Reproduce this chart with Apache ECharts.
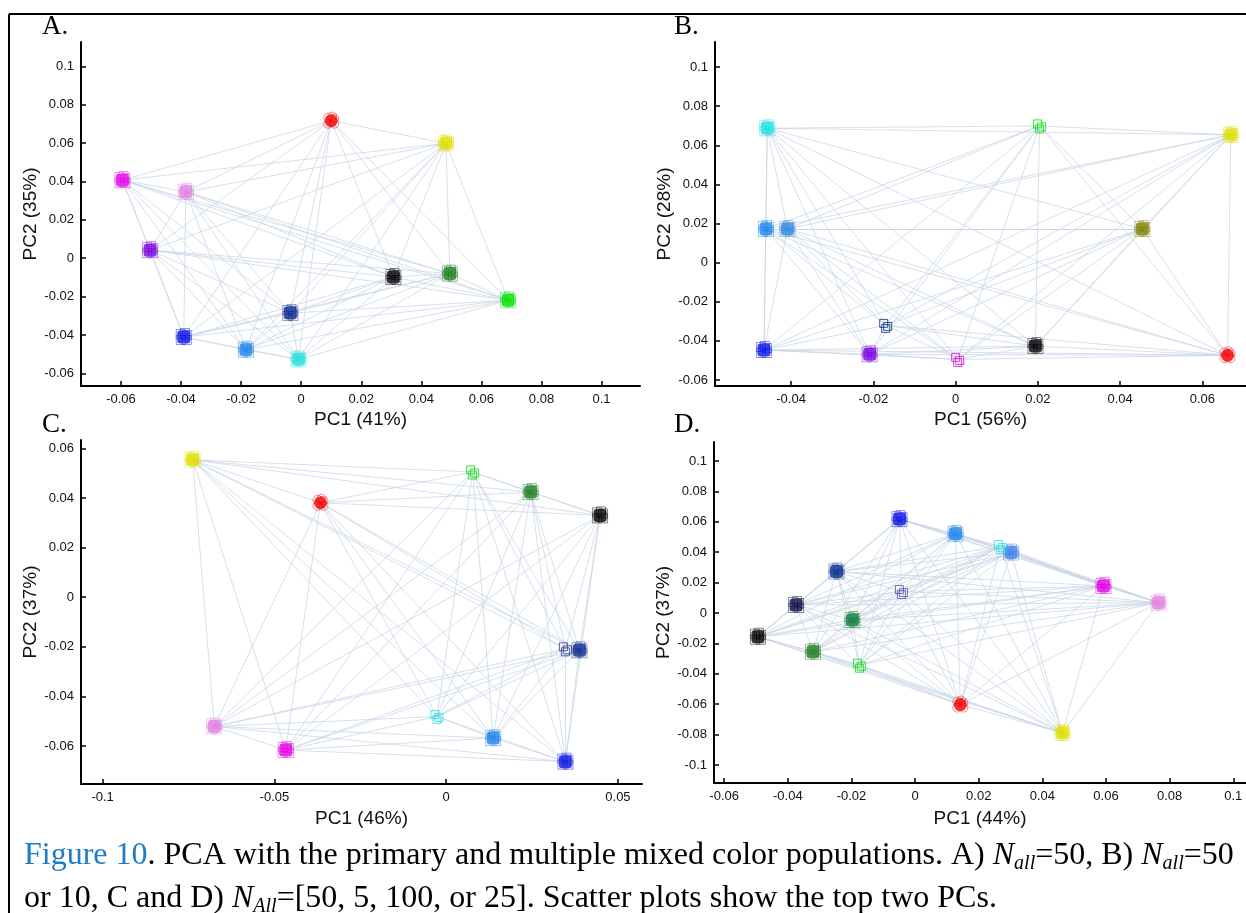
<!DOCTYPE html>
<html><head><meta charset="utf-8">
<script src="https://cdn.jsdelivr.net/npm/echarts@6/dist/echarts.min.js"></script>
<style>html,body{margin:0;padding:0;background:#fff}#c{width:1246px;height:913px}</style>
</head><body><div id="c"></div>
<script>
// ---------------- DATA ----------------
// Panel A
const A_names = ['red','yellow','magenta','orchid','purple','black','green','lime','navy','blue','dodger','cyan'];
const A_pc1 = [0.0100, 0.0482, -0.0595, -0.0384, -0.0503, 0.0307, 0.0495, 0.0689, -0.0036, -0.0391, -0.0184, -0.0009];
const A_pc2 = [0.0717, 0.0599, 0.0407, 0.0346, 0.0042, -0.0098, -0.0080, -0.0219, -0.0286, -0.0411, -0.0477, -0.0527];
const A_xTicks = [-0.06,-0.04,-0.02,0,0.02,0.04,0.06,0.08,0.1];
const A_yTicks = [-0.06,-0.04,-0.02,0,0.02,0.04,0.06,0.08,0.1];
const A_xName = 'PC1 (41%)', A_yName = 'PC2 (35%)';

// Panel B
const B_names = ['cyan','lime','yellow','dodger','dodger2','olive','navy','blue','purple','magenta','black','red'];
const B_pc1 = [-0.0458, 0.0204, 0.0669, -0.0461, -0.0409, 0.0454, -0.0170, -0.0466, -0.0209, 0.0005, 0.0194, 0.0661];
const B_pc2 = [0.0687, 0.0699, 0.0653, 0.0172, 0.0172, 0.0172, -0.0321, -0.0447, -0.0469, -0.0495, -0.0427, -0.0474];
const B_xTicks = [-0.04,-0.02,0,0.02,0.04,0.06];
const B_yTicks = [-0.06,-0.04,-0.02,0,0.02,0.04,0.06,0.08,0.1];
const B_xName = 'PC1 (56%)', B_yName = 'PC2 (28%)';

// Panel C
const C_names = ['yellow','lime','red','green','black','navy','navyLight','orchid','magenta','cyan','dodger','blue'];
const C_pc1 = [-0.0738, 0.0077, -0.0366, 0.0246, 0.0448, 0.0388, 0.0347, -0.0675, -0.0467, -0.0027, 0.0137, 0.0347];
const C_pc2 = [0.0554, 0.0505, 0.0381, 0.0424, 0.0330, -0.0214, -0.0208, -0.0521, -0.0616, -0.0481, -0.0568, -0.0663];
const C_xTicks = [-0.1,-0.05,0,0.05];
const C_yTicks = [-0.06,-0.04,-0.02,0,0.02,0.04,0.06];
const C_xName = 'PC1 (46%)', C_yName = 'PC2 (37%)';

// Panel D
const D_names = ['blue','dodger','cyan','cornflower','navy','slate','magenta','orchid','darknavy','green2','black','green','lime','red','yellow'];
const D_pc1 = [-0.0049, 0.0127, 0.0268, 0.0302, -0.0247, -0.0043, 0.0592, 0.0765, -0.0374, -0.0197, -0.0494, -0.0321, -0.0175, 0.0142, 0.0463];
const D_pc2 = [0.0618, 0.0521, 0.0437, 0.0398, 0.0273, 0.0141, 0.0178, 0.0068, 0.0053, -0.0046, -0.0156, -0.0255, -0.0343, -0.0602, -0.0789];
const D_xTicks = [-0.06,-0.04,-0.02,0,0.02,0.04,0.06,0.08,0.1];
const D_yTicks = [-0.1,-0.08,-0.06,-0.04,-0.02,0,0.02,0.04,0.06,0.08,0.1];
const D_xName = 'PC1 (44%)', D_yName = 'PC2 (37%)';

// ---------------- STYLE ----------------
const COLORS = {
  red:'#f20000', yellow:'#dede00', magenta:'#e400e4', orchid:'#e080e0', purple:'#7a00e0',
  black:'#000000', green:'#1f7d1f', lime:'#00e000', navy:'#0b2a8c', blue:'#0a14e4',
  dodger:'#1b84e8', dodger2:'#2f88e0', cyan:'#20e0e0', olive:'#7f7f00', navyLight:'#2a3a9a',
  cornflower:'#3f82e8', slate:'#6048a8', darknavy:'#0c0c48', green2:'#0b7d3b'
};
const CIRCLES = {red:true};
const HOLLOW = {
  A:{}, B:{lime:true, navy:true, magenta:true}, C:{lime:true, cyan:true, navyLight:true}, D:{cyan:true, slate:true, lime:true}
};
const LAYOUT = {
  A:{grid:{left:81, top:42, width:559, height:344}, x:[-0.0733,0.1128], y:[-0.0666,0.1127], yGap:37, xGap:24, letter:[42,26]},
  B:{grid:{left:715, top:42, width:531, height:344}, x:[-0.0585,0.0706], y:[-0.0631,0.1128], yGap:37, xGap:24, letter:[674,26]},
  C:{grid:{left:81, top:440, width:561, height:344}, x:[-0.1063,0.0570], y:[-0.0753,0.0634], yGap:37, xGap:25, letter:[42,424]},
  D:{grid:{left:714, top:442, width:532, height:341}, x:[-0.0632,0.1040], y:[-0.1118,0.1125], yGap:36, xGap:26, letter:[674,424]}
};
const PANELS = [
  {key:'A', names:A_names, pc1:A_pc1, pc2:A_pc2, xt:A_xTicks, yt:A_yTicks, xn:A_xName, yn:A_yName},
  {key:'B', names:B_names, pc1:B_pc1, pc2:B_pc2, xt:B_xTicks, yt:B_yTicks, xn:B_xName, yn:B_yName},
  {key:'C', names:C_names, pc1:C_pc1, pc2:C_pc2, xt:C_xTicks, yt:C_yTicks, xn:C_xName, yn:C_yName},
  {key:'D', names:D_names, pc1:D_pc1, pc2:D_pc2, xt:D_xTicks, yt:D_yTicks, xn:D_xName, yn:D_yName}
];
const FILL_OFFSETS = [[-3,-3],[3,-2],[-3,3],[3,3],[1,-4]];
const HOLLOW_OFFSETS = [[-2,-2],[2,1],[0,3]];

const grids = [], xAxes = [], yAxes = [], series = [], graphics = [];
const labelFont = {fontFamily:'Liberation Sans, Arial, sans-serif', fontSize:13, color:'#111'};
const nameFont = {fontFamily:'Liberation Sans, Arial, sans-serif', fontSize:19, color:'#111'};

PANELS.forEach((p, i) => {
  const L = LAYOUT[p.key];
  grids.push(L.grid);
  const axisCommon = {
    axisLine:{show:true, onZero:false, lineStyle:{color:'#000', width:2}},
    splitLine:{show:false},
    nameLocation:'middle', nameTextStyle:nameFont
  };
  xAxes.push(Object.assign({}, axisCommon, {
    type:'value', gridIndex:i, min:L.x[0], max:L.x[1], name:p.xn, nameGap:L.xGap,
    axisTick:{show:true, inside:true, length:5, customValues:p.xt, lineStyle:{color:'#000', width:1.5}},
    axisLabel:Object.assign({show:true, margin:7, customValues:p.xt, showMinLabel:true, showMaxLabel:true}, labelFont)
  }));
  yAxes.push(Object.assign({}, axisCommon, {
    type:'value', gridIndex:i, min:L.y[0], max:L.y[1], name:p.yn, nameGap:L.yGap,
    axisTick:{show:true, inside:true, length:5, customValues:p.yt, lineStyle:{color:'#000', width:1.5}},
    axisLabel:Object.assign({show:true, margin:7, customValues:p.yt}, labelFont)
  }));
  // connecting lines between every pair of populations
  const edges = [];
  for (let a = 0; a < p.names.length; a++) {
    for (let b = a + 1; b < p.names.length; b++) {
      edges.push({coords:[[p.pc1[a], p.pc2[a]], [p.pc1[b], p.pc2[b]]]});
    }
  }
  series.push({type:'lines', coordinateSystem:'cartesian2d', xAxisIndex:i, yAxisIndex:i,
    data:edges, silent:true, z:1, lineStyle:{color:'#c6d4e4', width:0.8, opacity:0.9}});
  const hollowSet = HOLLOW[p.key];
  // filled cores
  series.push({type:'scatter', xAxisIndex:i, yAxisIndex:i, z:3, silent:true,
    data:p.names.map((n, k) => hollowSet[n] ? null : {
      value:[p.pc1[k], p.pc2[k]], symbol: CIRCLES[n] ? 'circle' : 'roundRect', symbolSize:13,
      itemStyle:{color:COLORS[n]}
    }).filter(Boolean)});
  // outline markers around filled cores
  FILL_OFFSETS.forEach(off => {
    series.push({type:'scatter', xAxisIndex:i, yAxisIndex:i, z:2, silent:true, symbolOffset:off,
      data:p.names.map((n, k) => hollowSet[n] ? null : {
        value:[p.pc1[k], p.pc2[k]], symbol: CIRCLES[n] ? 'circle' : 'rect', symbolSize:9,
        itemStyle:{color:'rgba(255,255,255,0)', borderColor:COLORS[n], borderWidth:0.8, opacity:0.6}
      }).filter(Boolean)});
  });
  // hollow-only populations
  HOLLOW_OFFSETS.forEach(off => {
    series.push({type:'scatter', xAxisIndex:i, yAxisIndex:i, z:3, silent:true, symbolOffset:off,
      data:p.names.map((n, k) => !hollowSet[n] ? null : {
        value:[p.pc1[k], p.pc2[k]], symbol:'rect', symbolSize:8,
        itemStyle:{color:'rgba(255,255,255,0)', borderColor:COLORS[n], borderWidth:1}
      }).filter(Boolean)});
  });
  graphics.push({type:'text', left:L.letter[0], top:L.letter[1]-13, style:{text:p.key + '.',
    font:'27px "Liberation Serif", "Times New Roman", serif', fill:'#000'}});
});

// frame lines
graphics.push({type:'line', shape:{x1:9, y1:14, x2:1246, y2:14}, style:{stroke:'#000', lineWidth:2}});
graphics.push({type:'line', shape:{x1:9, y1:14, x2:9, y2:913}, style:{stroke:'#000', lineWidth:2}});

// caption
const CAP_FONT = '"Liberation Serif", "Times New Roman", serif';
const rich = {
  b:{fontFamily:CAP_FONT, fontSize:32, fill:'#1f7bc4', lineHeight:36},
  n:{fontFamily:CAP_FONT, fontSize:32, fill:'#000', lineHeight:36},
  i:{fontFamily:CAP_FONT, fontSize:32, fill:'#000', fontStyle:'italic', lineHeight:36},
  s:{fontFamily:CAP_FONT, fontSize:20, fill:'#000', fontStyle:'italic', lineHeight:18, verticalAlign:'bottom'}
};
graphics.push({type:'text', x:24, y:856, style:{
  text:'{b|Figure 10}{n|. PCA with the primary and multiple mixed color populations. A) }{i|N}{s|all}{n|=50, B) }{i|N}{s|all}{n|=50}',
  rich:rich, verticalAlign:'middle'}});
graphics.push({type:'text', x:24, y:899, style:{
  text:'{n|or 10, C and D) }{i|N}{s|All}{n|=[50, 5, 100, or 25]. Scatter plots show the top two PCs.}',
  rich:rich, verticalAlign:'middle'}});

const chart = echarts.init(document.getElementById('c'), null, {renderer:'canvas'});
chart.setOption({
  animation:false,
  backgroundColor:'#fff',
  grid:grids, xAxis:xAxes, yAxis:yAxes, series:series, graphic:graphics
});
</script></body></html>
